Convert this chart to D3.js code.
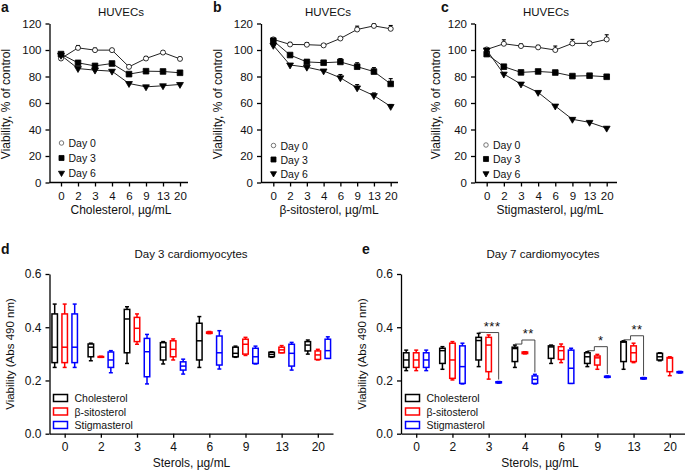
<!DOCTYPE html>
<html>
<head>
<meta charset="utf-8">
<script src="https://cdn.jsdelivr.net/npm/d3@7"></script>
<style>
  body { margin: 0; background: #fff; }
  svg { font-family: "Liberation Sans", Arial, sans-serif; }
</style>
</head>
<body>
<svg id="fig" width="685" height="472"></svg>
<script>
// ---- data ----
const doses = ["0", "2", "3", "4", "6", "9", "13", "20"];
const days = ["Day 0", "Day 3", "Day 6"];
const yTicksLine = [0, 20, 40, 60, 80, 100, 120];

// panel a: cholesterol
const cholDay0 = [93.6, 101.6, 99.9, 99.9, 87.3, 93.6, 98.1, 93.3];
const cholDay3 = [96.9, 90.3, 88, 89.8, 81.8, 84, 83.8, 82.8];
const cholDay6 = [96, 86, 84.8, 84, 74.7, 72.2, 73, 74];
const cholErr0 = [1, 1.8, 1.5, 1.2, 1, 1.5, 1, 1.2];
const cholErr3 = [1, 1.2, 1, 1.2, 1.2, 1, 1, 1.2];
const cholErr6 = [0.8, 0.8, 0.8, 0.8, 0.8, 0.8, 0.8, 0.8];

// panel b: beta-sitosterol
const sitoDay0 = [108, 104.2, 104, 103.5, 108.7, 115.5, 118.2, 116];
const sitoDay3 = [107, 96.2, 91, 90.4, 91, 87.4, 83.7, 74.4];
const sitoDay6 = [103.5, 88.7, 87, 84.2, 79, 71.4, 65.6, 57.4];
const sitoErr0 = [1, 1.5, 1.5, 1, 1, 2.5, 1.5, 2.5];
const sitoErr3 = [1, 1, 1.5, 1.5, 2.5, 3, 3, 4];
const sitoErr6 = [1, 1, 1, 1, 2.5, 2.5, 2, 1.5];

// panel c: stigmasterol
const stigDay0 = [100.4, 104.7, 103, 102, 100, 105, 105, 108];
const stigDay3 = [96.9, 87.4, 83.1, 83.8, 83, 80.3, 80.6, 79.8];
const stigDay6 = [100, 81.8, 74.3, 68, 57.7, 47.7, 45.4, 41];
const stigErr0 = [1, 3, 1.5, 1.5, 3, 3, 1.5, 3.5];
const stigErr3 = [1, 1, 1, 1, 1, 1, 1, 1];
const stigErr6 = [1, 1, 1, 1, 1, 1, 1, 1];

// panels d, e: box plots [min, q1, median, q3, max] per dose
const sterols = ["Cholesterol", "β-sitosterol", "Stigmasterol"];
const sterolColors = ["#000000", "#ff0000", "#0000ff"];
const yTicksBox = [0, 0.2, 0.4, 0.6];

const day3Chol = [
  [0.249, 0.267, 0.325, 0.45, 0.487], [0.274, 0.289, 0.325, 0.337, 0.34],
  [0.264, 0.304, 0.431, 0.467, 0.477], [0.262, 0.277, 0.325, 0.342, 0.346],
  [0.249, 0.277, 0.349, 0.415, 0.44], [0.287, 0.289, 0.302, 0.325, 0.329],
  [0.287, 0.289, 0.298, 0.306, 0.308], [0.299, 0.311, 0.333, 0.346, 0.352]
];
const day3Sito = [
  [0.249, 0.267, 0.325, 0.45, 0.487], [0.287, 0.288, 0.289, 0.29, 0.291],
  [0.336, 0.346, 0.396, 0.437, 0.45], [0.277, 0.289, 0.317, 0.349, 0.356],
  [0.376, 0.377, 0.38, 0.382, 0.384], [0.294, 0.299, 0.336, 0.355, 0.362],
  [0.304, 0.304, 0.315, 0.325, 0.331], [0.277, 0.279, 0.296, 0.311, 0.317]
];
const day3Stig = [
  [0.249, 0.267, 0.325, 0.45, 0.487], [0.229, 0.249, 0.277, 0.307, 0.312],
  [0.187, 0.214, 0.308, 0.358, 0.373], [0.224, 0.239, 0.254, 0.27, 0.28],
  [0.243, 0.258, 0.304, 0.367, 0.387], [0.262, 0.264, 0.289, 0.321, 0.329],
  [0.239, 0.254, 0.302, 0.336, 0.343], [0.283, 0.283, 0.312, 0.355, 0.364]
];

const day7Chol = [
  [0.237, 0.249, 0.277, 0.304, 0.314], [0.242, 0.264, 0.312, 0.321, 0.327],
  [0.252, 0.277, 0.35, 0.362, 0.377], [0.249, 0.271, 0.32, 0.325, 0.333],
  [0.264, 0.283, 0.326, 0.33, 0.333], [0.252, 0.264, 0.289, 0.304, 0.308],
  [0.242, 0.271, 0.344, 0.346, 0.349], [0.274, 0.277, 0.289, 0.302, 0.304]
];
const day7Sito = [
  [0.237, 0.249, 0.277, 0.304, 0.314], [0.202, 0.208, 0.277, 0.34, 0.346],
  [0.205, 0.233, 0.333, 0.362, 0.371], [0.3, 0.301, 0.304, 0.307, 0.308],
  [0.267, 0.279, 0.312, 0.327, 0.337], [0.242, 0.258, 0.285, 0.292, 0.298],
  [0.267, 0.271, 0.304, 0.33, 0.34], [0.218, 0.233, 0.284, 0.286, 0.289]
];
const day7Stig = [
  [0.237, 0.249, 0.277, 0.304, 0.314], [0.187, 0.189, 0.252, 0.33, 0.34],
  [0.19, 0.191, 0.193, 0.195, 0.196], [0.187, 0.189, 0.204, 0.217, 0.223],
  [0.189, 0.189, 0.246, 0.314, 0.321], [0.211, 0.212, 0.214, 0.216, 0.217],
  [0.205, 0.206, 0.208, 0.21, 0.211], [0.228, 0.229, 0.231, 0.233, 0.234]
];

// significance (Day 7)
const sigDoses = ["3", "4", "9", "13"];
const sigLabels = ["***", "**", "*", "**"];
const sigLevels = [0.38, 0.352, 0.327, 0.368];

// ---- drawing ----
const svg = d3.select("#fig");

function styleAxis(g, size) {
  g.select(".domain").attr("stroke", "#000").attr("stroke-width", 1.3);
  g.selectAll(".tick line").attr("stroke", "#000").attr("stroke-width", 1.3);
  g.selectAll(".tick text")
    .attr("fill", "#111")
    .style("font-size", size + "px");
}

function addText(x, y, txt, size, opts = {}) {
  const t = svg.append("text")
    .attr("x", x)
    .attr("y", y)
    .attr("text-anchor", opts.anchor || "middle")
    .attr("font-size", size)
    .attr("fill", "#111")
    .text(txt);
  if (opts.bold) t.attr("font-weight", "bold");
  if (opts.rotate) t.attr("transform", `rotate(-90,${x},${y})`);
  return t;
}

const markers = [
  { type: d3.symbolCircle, size: 20, fill: "#fff", rot: 0 },
  { type: d3.symbolSquare, size: 32, fill: "#000", rot: 0 },
  { type: d3.symbolTriangle, size: 20, fill: "#000", rot: 180 }
];

function linePanel(p) {
  const y = d3.scaleLinear().domain([0, 120]).range([182.5, 23.5]);
  const x = d3.scalePoint().domain(doses).range([p.x0, p.x1]);

  // x axis
  const gx = svg.append("g").attr("transform", `translate(0,${y(0)})`);
  gx.call(d3.axisBottom(x).tickSize(4).tickSizeOuter(0).tickPadding(5));
  gx.select(".domain").attr("d", `M${p.axisX},0H${p.axisEnd}`);
  styleAxis(gx, 11.5);

  const gy = svg.append("g").attr("transform", `translate(${p.axisX},0)`);
  gy.call(d3.axisLeft(y).tickValues(yTicksLine).tickSize(4).tickSizeOuter(0).tickPadding(4));
  styleAxis(gy, 11.5);

  p.series.forEach((vals, i) => {
    const errs = p.errors[i];
    const pts = vals.map((v, j) => ({ d: doses[j], v: v, e: errs[j] }));
    svg.append("path")
      .datum(pts)
      .attr("fill", "none")
      .attr("stroke", "#222")
      .attr("stroke-width", 1)
      .attr("d", d3.line().x((d) => x(d.d)).y((d) => y(d.v)));

    // error bars (upward)
    const eb = svg.append("g").attr("stroke", "#000").attr("stroke-width", 1.1);
    pts.forEach((d) => {
      eb.append("line")
        .attr("x1", x(d.d)).attr("x2", x(d.d))
        .attr("y1", y(d.v)).attr("y2", y(d.v + d.e));
      eb.append("line")
        .attr("x1", x(d.d) - 2).attr("x2", x(d.d) + 2)
        .attr("y1", y(d.v + d.e)).attr("y2", y(d.v + d.e));
    });

    const m = markers[i];
    svg.append("g")
      .selectAll("path")
      .data(pts)
      .enter()
      .append("path")
      .attr("d", d3.symbol().type(m.type).size(m.size))
      .attr("transform", (d) => `translate(${x(d.d)},${y(d.v)}) rotate(${m.rot})`)
      .attr("fill", m.fill)
      .attr("stroke", "#000")
      .attr("stroke-width", 0.8);
  });

  // legend
  days.forEach((name, i) => {
    const ly = p.legendY[i];
    const m = markers[i];
    svg.append("path")
      .attr("d", d3.symbol().type(m.type).size(m.size * 0.8))
      .attr("transform", `translate(${p.legendX},${ly}) rotate(${m.rot})`)
      .attr("fill", m.fill)
      .attr("stroke", i === 0 ? "#555" : "#000")
      .attr("stroke-width", 0.8);
    addText(p.legendX + 7, ly + 4, name, 10.5, { anchor: "start" });
  });

  addText(p.titleX, 16, "HUVECs", 11.5);
  addText(p.xlabX, 214, p.xlabel, 12);
  addText(p.ylabX, 104, "Viability, % of control", 12, { rotate: true });
  addText(p.letterX, 11.5, p.letter, 14, { bold: true, anchor: "start" });
}

linePanel({
  letter: "a", letterX: 1, axisX: 49.5, axisEnd: 188, x0: 61, x1: 180,
  series: [cholDay0, cholDay3, cholDay6], errors: [cholErr0, cholErr3, cholErr6],
  legendX: 61.5, legendY: [143, 158, 173], titleX: 121,
  xlabel: "Cholesterol, µg/mL", xlabX: 121, ylabX: 10
});
linePanel({
  letter: "b", letterX: 213, axisX: 261, axisEnd: 398, x0: 273.3, x1: 390.7,
  series: [sitoDay0, sitoDay3, sitoDay6], errors: [sitoErr0, sitoErr3, sitoErr6],
  legendX: 273.5, legendY: [145.5, 159.5, 173.5], titleX: 328,
  xlabel: "β-sitosterol, µg/mL", xlabX: 329, ylabX: 222
});
linePanel({
  letter: "c", letterX: 441, axisX: 475, axisEnd: 617, x0: 486.7, x1: 606.7,
  series: [stigDay0, stigDay3, stigDay6], errors: [stigErr0, stigErr3, stigErr6],
  legendX: 486, legendY: [145, 159, 173.5], titleX: 546,
  xlabel: "Stigmasterol, µg/mL", xlabX: 550, ylabX: 440
});

function boxPanel(p) {
  const y = d3.scaleLinear().domain([0, 0.6]).range([433.7, 274]);
  const x = d3.scalePoint().domain(doses).range([p.axisX, p.axisEnd]).padding(0.42);
  const off = d3.scalePoint().domain(sterols).range([-10, 10]);

  const gx = svg.append("g").attr("transform", `translate(0,${y(0)})`);
  gx.call(d3.axisBottom(x).tickSize(4).tickSizeOuter(0).tickPadding(5));
  styleAxis(gx, 12);

  const gy = svg.append("g").attr("transform", `translate(${p.axisX},0)`);
  gy.call(d3.axisLeft(y).tickValues(yTicksBox).tickFormat(d3.format(".1f"))
    .tickSize(4).tickSizeOuter(0).tickPadding(4));
  styleAxis(gy, 12);

  const bw = 5.5;
  p.sets.forEach((set, s) => {
    const col = sterolColors[s];
    const g = svg.append("g").attr("stroke", col).attr("stroke-width", 1.5).attr("fill", "none");
    set.forEach((b, j) => {
      const cx = x(doses[j]) + off(sterols[s]);
      const [lo, q1, md, q3, hi] = b.map(y);
      g.append("line").attr("x1", cx).attr("x2", cx).attr("y1", hi).attr("y2", lo);
      g.append("line").attr("x1", cx - 2).attr("x2", cx + 2).attr("y1", hi).attr("y2", hi);
      g.append("line").attr("x1", cx - 2).attr("x2", cx + 2).attr("y1", lo).attr("y2", lo);
      g.append("rect")
        .attr("x", cx - bw / 2).attr("y", q3)
        .attr("width", bw).attr("height", Math.max(q1 - q3, 0.8))
        .attr("fill", "#fff");
      g.append("line").attr("x1", cx - bw / 2).attr("x2", cx + bw / 2).attr("y1", md).attr("y2", md);
    });
  });

  // legend
  sterols.forEach((name, i) => {
    const ly = p.legendY[i];
    svg.append("rect")
      .attr("x", p.legendX).attr("y", ly - 3.5)
      .attr("width", 14).attr("height", 7)
      .attr("fill", "none").attr("stroke", sterolColors[i]).attr("stroke-width", 1.5);
    addText(p.legendX + 21, ly + 4, name, 10.5, { anchor: "start" });
  });

  if (p.sig) {
    sigDoses.forEach((d, i) => {
      const j = doses.indexOf(d);
      const c = x(d);
      const bx = c + off(sterols[0]);
      const sx = c - 3;
      const ux = c + off(sterols[2]);
      const yb = y(sigLevels[i]);
      const yl = y(p.sets[0][j][4]) - 1;
      const yu = y(p.sets[2][j][4]) - 2;
      svg.append("path")
        .attr("d", `M${bx},${yl}H${sx}V${yb}H${ux}V${yu}`)
        .attr("fill", "none")
        .attr("stroke", "#333")
        .attr("stroke-width", 0.9);
      addText((sx + ux) / 2, yb - 2, sigLabels[i], 13).attr("letter-spacing", 0.5);
    });
  }

  addText(p.titleX, 258, p.title, 11.5);
  addText(p.xlabX, 467, "Sterols, µg/mL", 12);
  addText(p.ylabX, 354, "Viability (Abs 490 nm)", 11.5, { rotate: true });
  addText(p.letterX, 254, p.letter, 14, { bold: true, anchor: "start" });
}

boxPanel({
  letter: "d", letterX: 1, axisX: 49.5, axisEnd: 333,
  sets: [day3Chol, day3Sito, day3Stig], sig: false,
  legendX: 53.5, legendY: [398, 411.5, 425], title: "Day 3 cardiomyocytes",
  titleX: 191, xlabX: 191.5, ylabX: 14
});
boxPanel({
  letter: "e", letterX: 362, axisX: 401, axisEnd: 685,
  sets: [day7Chol, day7Sito, day7Stig], sig: true,
  legendX: 405.5, legendY: [398, 411.5, 425], title: "Day 7 cardiomyocytes",
  titleX: 543, xlabX: 540, ylabX: 366
});
</script>
</body>
</html>
